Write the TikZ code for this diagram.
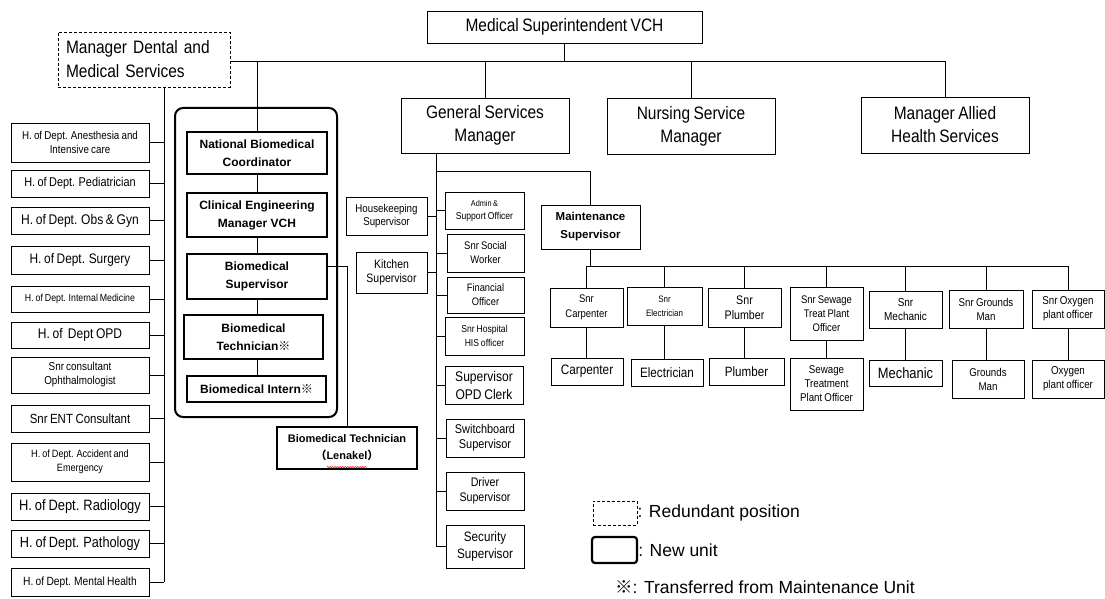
\documentclass[tikz,border=0pt]{standalone}
\usepackage{fontspec}
\setmainfont{Liberation Sans}
\newfontfamily\nar[FakeStretch=0.86,WordSpace=0.8]{Liberation Sans}
\newfontfamily\cjk{Noto Sans CJK JP}
\usetikzlibrary{decorations.pathmorphing,backgrounds}
\newcommand\fz[2]{\nar\fontsize{#1}{#2}\selectfont}
\newcommand\fb[2]{\bfseries\fontsize{#1}{#2}\selectfont}
\newcommand\bx[7]{\node[#1, minimum width={#5pt-#3pt}, minimum height={#6pt-#4pt}] (#2) at ({(#3+#5)/2},{(#4+#6)/2}) {#7};}
\tikzset{
  box/.style={draw, line width=0.9pt, fill=white, inner sep=1pt, align=center},
  nbox/.style={box, line width=2.2pt},
  dbox/.style={box, dashed, dash pattern=on 3pt off 2pt},
  ln/.style={draw, line width=0.9pt},
}
\begin{document}
\begin{tikzpicture}[x=1pt,y=-1pt]
\useasboundingbox (0,0) rectangle (1105,599);
% top
\bx{box,font=\fz{18}{23}}{ms}{427}{11}{702}{43}{Medical Superintendent VCH}
\bx{box,font=\fz{18}{23}}{gsm}{401}{98}{569}{153}{General Services\\Manager}
\bx{box,font=\fz{18}{23}}{nsm}{607}{98}{775}{154}{Nursing Service\\Manager}
\bx{box,font=\fz{18}{23}}{mah}{861}{97}{1029}{153}{Manager Allied\\Health Services}
\node[dbox, font=\fz{18}{24}, minimum width=172pt, minimum height=55pt, text width=156pt, inner xsep=8pt, align=left] (dms) at (144,59.5) {Manager Dental and\\Medical Services};
% left column
\bx{box,font=\fz{11.4}{14}}{anes}{11}{123}{149}{162}{H. of Dept. Anesthesia and\\Intensive care}
\bx{box,font=\fz{12.7}{15}}{ped}{11}{170}{149}{197}{H. of Dept. Pediatrician}
\bx{box,font=\fz{14}{16}}{obs}{11}{207}{149}{234}{H. of Dept. Obs \& Gyn}
\bx{box,font=\fz{13.8}{16}}{sur}{11}{246}{149}{274}{H. of Dept. Surgery}
\bx{box,font=\fz{10.2}{12}}{int}{11}{286}{149}{312}{H. of Dept. Internal Medicine}
\bx{box,font=\fz{14}{16}}{opd}{11}{322}{149}{348}{H. of\ \ Dept OPD}
\bx{box,font=\fz{11.5}{14}}{oph}{11}{357}{149}{393}{Snr consultant\\Ophthalmologist}
\bx{box,font=\fz{13.3}{16}}{ent}{11}{405}{149}{432}{Snr ENT Consultant}
\bx{box,font=\fz{10.6}{14}}{acc}{11}{443}{149}{481}{H. of Dept. Accident and\\Emergency}
\bx{box,font=\fz{15}{17}}{rad}{11}{493}{149}{520}{H. of Dept. Radiology}
\bx{box,font=\fz{14.8}{17}}{pat}{11}{530}{149}{557}{H. of Dept. Pathology}
\bx{box,font=\fz{11.9}{14}}{men}{11}{568}{149}{596}{H. of Dept. Mental Health}
% biomedical unit
\bx{draw, line width=2pt, rounded corners=8pt, inner sep=0pt}{bmc}{175}{108}{337}{417}{}
\bx{nbox,font=\fb{12}{18}}{nbc}{187}{132}{327}{174}{National Biomedical\\Coordinator}
\bx{nbox,font=\fb{12}{18}}{cem}{187}{193}{327}{237}{Clinical Engineering\\Manager VCH}
\bx{nbox,font=\fb{12}{18}}{bs}{187}{254}{327}{299}{Biomedical\\Supervisor}
\bx{nbox,font=\fb{12}{18}}{bt}{184}{315}{323}{359}{Biomedical\\Technician{\cjk ※}}
\bx{nbox,font=\fb{12}{18}}{bi}{187}{376}{326}{402}{Biomedical Intern{\cjk ※}}
\bx{nbox,font=\fb{11}{17}}{len}{277}{427}{417}{469}{Biomedical Technician\\{\cjk （}Lenakel{\cjk ）}}
% general services column
\bx{box,font=\fz{11.3}{13.5}}{hk}{346}{197}{427}{235}{Housekeeping\\Supervisor}
\bx{box,font=\fz{12.2}{14.5}}{ks}{356}{252}{427}{293}{Kitchen\\Supervisor}
\bx{box,font=\fz{10}{13}}{adm}{445}{192}{524}{229}{{\fz{8.5}{13}Admin \&}\\Support Officer}
\bx{box,font=\fz{11}{14}}{soc}{447}{234}{524}{272}{Snr Social\\Worker}
\bx{box,font=\fz{10.8}{14}}{fin}{447}{277}{524}{313}{Financial\\Officer}
\bx{box,font=\fz{10}{13.5}}{his}{445}{317}{524}{355}{Snr Hospital\\HIS officer}
\bx{box,font=\fz{14}{18}}{opc}{445}{366}{523}{404}{Supervisor\\OPD Clerk}
\bx{box,font=\fz{12.7}{15}}{swb}{446}{419}{524}{457}{Switchboard\\Supervisor}
\bx{box,font=\fz{12.4}{15}}{drv}{446}{472}{524}{510}{Driver\\Supervisor}
\bx{box,font=\fz{13.6}{17}}{sec}{446}{525}{524}{568}{Security\\Supervisor}
% maintenance
\bx{box,font=\fb{11.5}{18}}{msu}{541}{205}{640}{249}{Maintenance\\Supervisor}
\bx{box,font=\fz{11}{15}}{scar}{550}{288}{623}{327}{Snr\\Carpenter}
\bx{box,font=\fz{9.3}{14}}{sele}{627}{287}{702}{325}{Snr\\Electrician}
\bx{box,font=\fz{12.4}{15}}{splu}{708}{288}{781}{327}{Snr\\Plumber}
\bx{box,font=\fz{11}{14}}{ssew}{790}{287}{863}{340}{Snr Sewage\\Treat Plant\\Officer}
\bx{box,font=\fz{11.6}{14}}{smec}{869}{291}{942}{328}{Snr\\Mechanic}
\bx{box,font=\fz{11.3}{14}}{sgro}{949}{290}{1023}{328}{Snr Grounds\\Man}
\bx{box,font=\fz{11.4}{14}}{soxy}{1032}{290}{1104}{328}{Snr Oxygen\\plant officer}
\bx{box,font=\fz{13.7}{16}}{car}{551}{358}{623}{385}{Carpenter}
\bx{box,font=\fz{13.6}{16}}{ele}{631}{359}{703}{386}{Electrician}
\bx{box,font=\fz{13.5}{16}}{plu}{709}{358}{784}{385}{Plumber}
\bx{box,font=\fz{11.3}{14}}{sew}{790}{358}{863}{410}{Sewage\\Treatment\\Plant Officer}
\bx{box,font=\fz{15}{17}}{mec}{869}{360}{942}{386}{Mechanic}
\bx{box,font=\fz{11.3}{14}}{gro}{952}{360}{1024}{398}{Grounds\\Man}
\bx{box,font=\fz{11.4}{14}}{oxy}{1032}{360}{1104}{398}{Oxygen\\plant officer}
% legend
\bx{dbox}{lg1}{593}{501}{637}{525}{}
\bx{nbox, rounded corners=3pt}{lg2}{592}{537}{637}{563}{}
\node[anchor=west, inner sep=0pt, font=\fontsize{17.5}{20}\selectfont] (t1) at (lg1.east) {: Redundant position};
\node[anchor=west, inner sep=0pt, font=\fontsize{17.5}{20}\selectfont] (t2) at (lg2.east) {: New unit};
\node[anchor=west, inner sep=0pt, font=\fontsize{17.5}{20}\selectfont] (t3) at (615,587) {{\cjk ※}: Transferred from Maintenance Unit};
% red spell-check underline
\draw[red, line width=0.5pt, decorate, decoration={snake, amplitude=0.7pt, segment length=2.5pt}] ([xshift=-20pt,yshift=3pt]len.south) -- ([xshift=20pt,yshift=3pt]len.south);
% connectors
\begin{pgfonlayer}{background}
\fill[white] (0,0) rectangle (1105,599);
\coordinate (hL) at (164,61);
\coordinate (gx) at (436,0);
\coordinate (gy) at (0,171);
\coordinate (my) at (0,266);
\draw[ln] (hL) -- (hL -| mah.north) -- (mah.north);
\draw[ln] (ms.south) -- (ms.south |- hL);
\draw[ln] (gsm.north) -- (gsm.north |- hL);
\draw[ln] (nsm.north) -- (nsm.north |- hL);
\draw[ln] (hL) -- (hL |- men.east);
\foreach \n in {anes,ped,obs,sur,int,opd,oph,ent,acc,rad,pat,men}
  \draw[ln] (\n.east) -- (\n.east -| hL);
\draw[ln] (nbc.north |- hL) -- (nbc.north);
\draw[ln] (nbc.south) -- (cem.north);
\draw[ln] (cem.south) -- (bs.north);
\draw[ln] (bs.south) -- (bs.south |- bt.north);
\draw[ln] (bt.south -| bs.south) -- (bs.south |- bi.north);
\draw[ln] ([yshift=10pt]bs.east) -| (len.north);
\draw[ln] (gsm.south -| gx) -- (gx |- sec.west);
\foreach \n in {hk,ks}
  \draw[ln] (\n.east) -- (\n.east -| gx);
\foreach \n in {adm,soc,fin,his,opc,swb,drv,sec}
  \draw[ln] (\n.west) -- (\n.west -| gx);
\draw[ln] (gx |- gy) -| (msu.north);
\draw[ln] (msu.south) -- (msu.south |- my);
\draw[ln] (scar.north |- my) -- (soxy.north |- my);
\foreach \a/\b in {scar/car,sele/ele,splu/plu,ssew/sew,smec/mec,sgro/gro,soxy/oxy}{
  \draw[ln] (\a.north) -- (\a.north |- my);
  \draw[ln] (\a.south) -- (\a.south |- \b.north);
}
\end{pgfonlayer}
\end{tikzpicture}
\end{document}
